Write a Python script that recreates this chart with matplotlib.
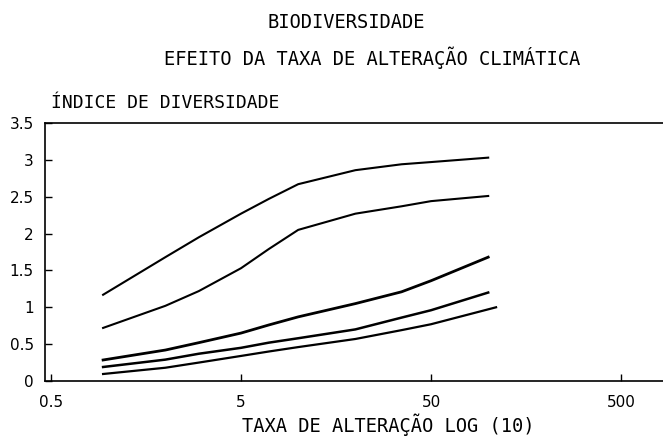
import numpy as np
import matplotlib.pyplot as plt

# taxa de alteracao (eixo log) e indice de diversidade
x = [0.94, 2, 3, 5, 7, 10, 20, 35, 50, 100]
curva1 = [1.17, 1.68, 1.95, 2.27, 2.47, 2.67, 2.86, 2.94, 2.97, 3.03]
curva2 = [0.72, 1.02, 1.22, 1.53, 1.79, 2.05, 2.27, 2.37, 2.44, 2.51]
curva3 = [0.285, 0.42, 0.52, 0.65, 0.76, 0.87, 1.05, 1.21, 1.36, 1.68]
curva4 = [0.19, 0.29, 0.37, 0.45, 0.52, 0.58, 0.70, 0.86, 0.96, 1.20]
x5 = [0.94, 2, 3, 5, 7, 10, 20, 35, 50, 110]
curva5 = [0.095, 0.18, 0.25, 0.34, 0.40, 0.46, 0.57, 0.69, 0.77, 1.00]

xticks = [0.5, 5, 50, 500]
xticklabels = ["0.5", "5", "50", "500"]
yticks = [0, 0.5, 1, 1.5, 2, 2.5, 3, 3.5]
yticklabels = ["0", "0.5", "1", "1.5", "2", "2.5", "3", "3.5"]

W, H = 663, 436
fig = plt.figure(figsize=(W/100, H/100), dpi=100)
# eixo vai alem da borda direita, como na figura original
ax = fig.add_axes([45/W, 55/H, 640/W, 258/H])

for xs, ys, lw in [(x, curva1, 1.5), (x, curva2, 1.5), (x, curva3, 2.0),
                   (x, curva4, 1.8), (x5, curva5, 1.6)]:
    ax.plot(xs, ys, color="black", lw=lw)

ax.set_xscale("log")
ax.set_xlim(0.5*10**(-6/190), 0.5*10**(634/190))
ax.set_ylim(0, 3.5)
ax.set_xticks(xticks)
ax.set_xticklabels(xticklabels)
ax.set_yticks(yticks)
ax.set_yticklabels(yticklabels)
ax.minorticks_off()
ax.tick_params(direction="in", length=5, width=1, labelsize=11, pad=8)
ax.tick_params(axis="x", pad=10)
ax.spines["right"].set_visible(False)
for s in ["left", "top", "bottom"]:
    ax.spines[s].set_linewidth(1.2)

mono = "DejaVu Sans Mono"
fig.text(346/W, 1 - 28/H, "BIODIVERSIDADE", ha="center", va="baseline",
         fontsize=13.5, family=mono)
fig.text(372/W, 1 - 65/H, "EFEITO DA TAXA DE ALTERAÇÃO CLIMÁTICA", ha="center",
         va="baseline", fontsize=13.5, family=mono)
fig.text(51/W, 1 - 108/H, "ÍNDICE DE DIVERSIDADE", ha="left", va="baseline",
         fontsize=13, family=mono)
fig.text(388/W, 1 - 432/H, "TAXA DE ALTERAÇÃO LOG (10)", ha="center", va="baseline",
         fontsize=13.5, family=mono)

fig.savefig("out.png", dpi=100)
